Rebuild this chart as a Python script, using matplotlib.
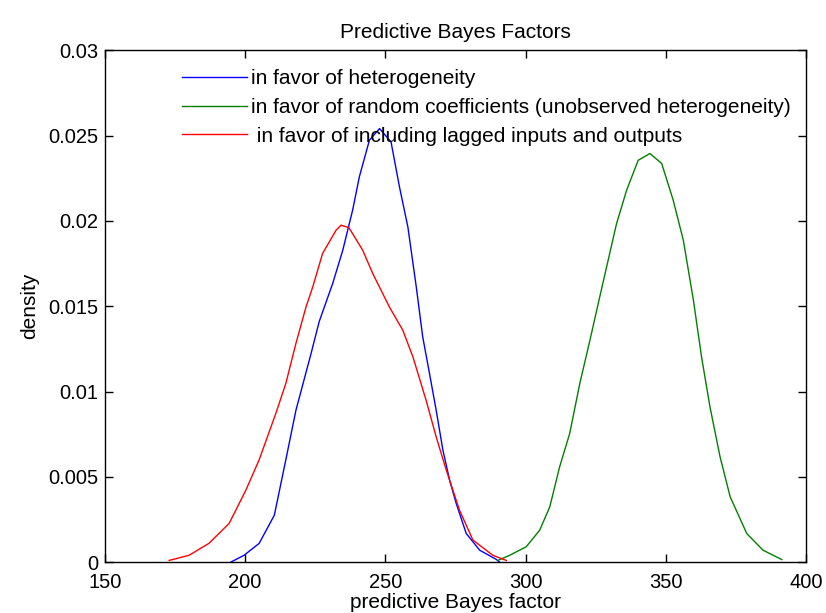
import matplotlib
matplotlib.use("Agg")
import matplotlib.pyplot as plt

plt.rcParams['font.family'] = ['Liberation Sans', 'DejaVu Sans']

# density curves
blue_x = [194.9, 199.6, 205.0, 210.4, 214.5, 218.1, 223.5, 226.4, 231.2, 234.8, 238.3, 240.7,
          244.3, 247.9, 252.0, 255.0, 258.0, 261.0, 263.3, 265.7, 268.1, 270.5, 272.9, 275.2,
          278.8, 283.6, 289.5, 290.7]
blue_y = [0.0, 0.0004, 0.0011, 0.00275, 0.0060, 0.0089, 0.01223, 0.0141, 0.01633, 0.01828,
          0.02062, 0.02258, 0.02473, 0.02541, 0.02463, 0.0220, 0.01965, 0.01613, 0.0132,
          0.01107, 0.0089, 0.00656, 0.0048, 0.00346, 0.00168, 0.0007, 0.00016, 0.0]

green_x = [290.1, 294.3, 300.2, 305.0, 308.6, 312.1, 315.7, 319.3, 322.9, 326.4, 329.4, 332.4,
           336.0, 340.1, 344.3, 348.5, 352.6, 356.2, 359.8, 362.7, 365.7, 369.3, 372.9, 378.8,
           384.6, 391.3]
green_y = [0.0001, 0.0004, 0.0009, 0.00187, 0.00324, 0.00558, 0.00754, 0.01047, 0.0130,
           0.01554, 0.01769, 0.01984, 0.0218, 0.02355, 0.02395, 0.02336, 0.02121, 0.01887,
           0.01535, 0.01203, 0.0091, 0.00617, 0.00383, 0.00168, 0.0007, 0.00015]

red_x = [172.9, 180.0, 187.1, 194.3, 200.2, 205.0, 210.9, 214.5, 218.1, 221.7, 224.1, 227.6,
         232.4, 234.2, 237.0, 241.9, 245.5, 251.4, 256.2, 259.8, 264.5, 268.1, 271.7, 276.4,
         281.2, 288.3, 293.1]
red_y = [0.0001, 0.0004, 0.0011, 0.00227, 0.0042, 0.0060, 0.0087, 0.01047, 0.01282, 0.01496,
         0.01613, 0.01809, 0.01945, 0.01975, 0.0196, 0.01828, 0.01691, 0.01496, 0.01359,
         0.01203, 0.00949, 0.00734, 0.00539, 0.00305, 0.00129, 0.0004, 0.0001]

labels = ['in favor of heterogeneity',
          'in favor of random coefficients (unobserved heterogeneity)',
          ' in favor of including lagged inputs and outputs']

xticks = [150, 200, 250, 300, 350, 400]
yticks = [0, 0.005, 0.01, 0.015, 0.02, 0.025, 0.03]
ytick_labels = ['0', '0.005', '0.01', '0.015', '0.02', '0.025', '0.03']

fig = plt.figure(figsize=(8.26, 6.13), dpi=100)
ax = fig.add_axes([0.127, 0.083, 0.849, 0.835])

ax.plot(blue_x, blue_y, color=(0, 0, 1), lw=1.0, label=labels[0])
ax.plot(green_x, green_y, color=(0, 0.5, 0), lw=1.0, label=labels[1])
ax.plot(red_x, red_y, color=(1, 0, 0), lw=1.0, label=labels[2])

ax.set_xlim(150, 400)
ax.set_ylim(0, 0.03)
ax.set_xticks(xticks)
ax.set_xticklabels([str(t) for t in xticks])
ax.set_yticks(yticks)
ax.set_yticklabels(ytick_labels)
ax.tick_params(direction='in', length=6, width=1, top=True, right=True,
               labelsize=14.5)
ax.tick_params(axis='x', pad=7.5)
ax.tick_params(axis='y', pad=5)
for sp in ax.spines.values():
    sp.set_linewidth(1.0)

ax.set_title('Predictive Bayes Factors', fontsize=15, pad=9)
ax.set_xlabel('predictive Bayes factor', fontsize=15, labelpad=1)
ax.set_ylabel('density', fontsize=15, labelpad=6)

ax.legend(loc='upper left', bbox_to_anchor=(0.11, 0.963), frameon=False,
          fontsize=15, handlelength=3.1, handletextpad=0.2, borderpad=0,
          labelspacing=0.47, borderaxespad=0)

fig.savefig('out.png', dpi=100)
